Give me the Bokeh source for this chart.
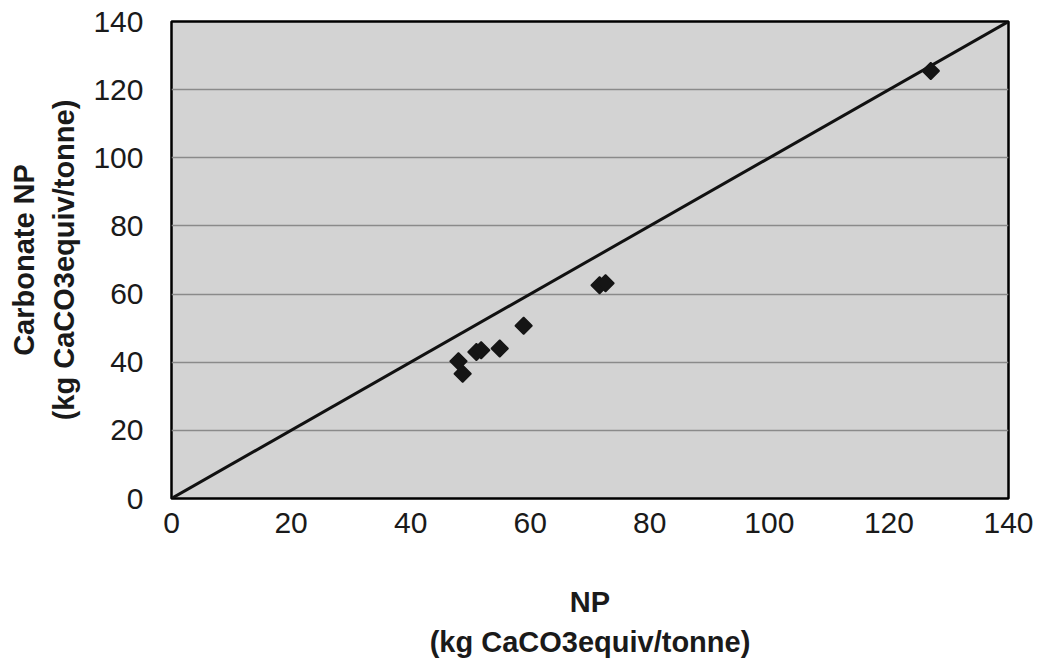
import math
from bokeh.plotting import figure
from bokeh.models import Range1d, FixedTicker, ColumnDataSource
from bokeh.embed import file_html
from bokeh.resources import INLINE

# Data
np_total = [48.0, 48.7, 51.0, 51.8, 54.9, 58.9, 71.6, 72.6, 127.0]
carbonate_np = [40.3, 36.6, 43.0, 43.5, 44.0, 50.7, 62.6, 63.2, 125.5]
one_to_one_x = [0, 140]
one_to_one_y = [0, 140]
tick_values = [0, 20, 40, 60, 80, 100, 120, 140]

x_title = "NP\n(kg CaCO3equiv/tonne)"
y_title = "Carbonate NP\n(kg CaCO3equiv/tonne)"

FONT = "Liberation Sans"

p = figure(width=1039, height=666, output_backend="svg", toolbar_location=None,
           x_range=Range1d(0, 140), y_range=Range1d(0, 140),
           min_border_left=171, min_border_right=31, min_border_top=21,
           min_border_bottom=168)

p.background_fill_color = "#d3d3d3"
p.border_fill_color = "white"
p.outline_line_color = "black"
p.outline_line_width = 2.5

p.xgrid.grid_line_color = None
p.ygrid.grid_line_color = "#8a8a8a"
p.ygrid.grid_line_width = 1.5
p.ygrid.ticker = FixedTicker(ticks=tick_values)

for ax in (p.xaxis, p.yaxis):
    ax.ticker = FixedTicker(ticks=tick_values)
    ax.major_tick_line_color = None
    ax.minor_tick_line_color = None
    ax.axis_line_color = None
    ax.major_label_text_font = FONT
    ax.major_label_text_font_size = "30px"
    ax.major_label_text_color = "#1a1a1a"
    ax.axis_label_text_font = FONT
    ax.axis_label_text_font_size = "29px"
    ax.axis_label_text_font_style = "bold"
    ax.axis_label_text_color = "#1a1a1a"
    ax.axis_label_text_line_height = 1.25

p.xaxis.axis_label = x_title
p.yaxis.axis_label = y_title
p.xaxis.major_label_standoff = 8
p.yaxis.major_label_standoff = 22
p.xaxis.axis_label_standoff = 50
p.yaxis.axis_label_standoff = 10

p.line(one_to_one_x, one_to_one_y, line_color="#111111", line_width=3)

src = ColumnDataSource(dict(x=np_total, y=carbonate_np))
p.scatter("x", "y", source=src, marker="square", size=12, angle=math.pi / 4,
          fill_color="#151515", line_color="#151515", line_width=1.5)

open("out.html", "w").write(file_html(p, INLINE))
